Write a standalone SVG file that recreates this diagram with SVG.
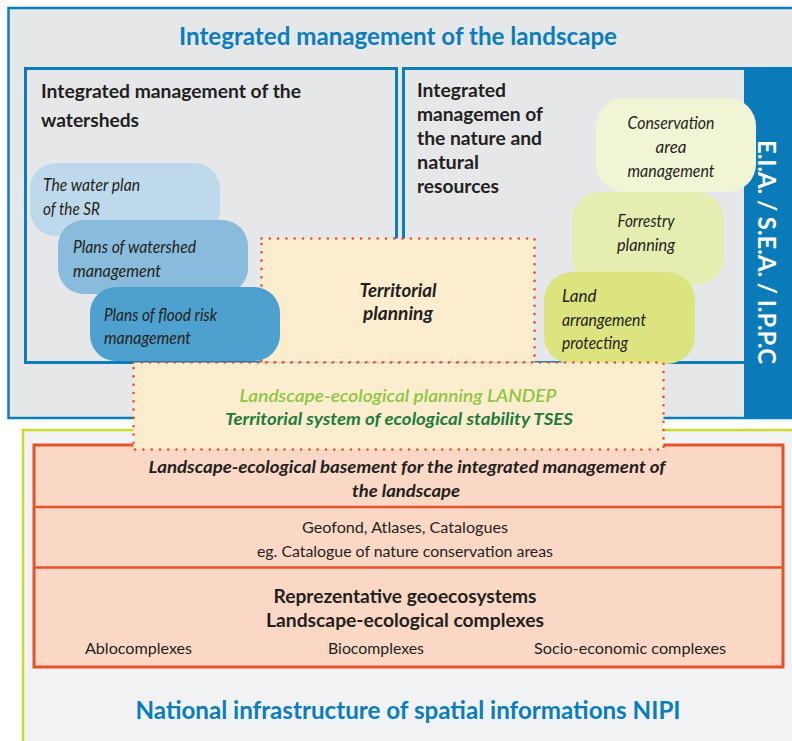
<svg xmlns="http://www.w3.org/2000/svg" width="792" height="741" viewBox="0 0 792 741">
  <style>
    text { font-family: Lato, "Open Sans", "Liberation Sans", sans-serif; fill: #231f20; }
    .title { font-size: 24px; font-weight: 700; fill: #0b7dbc; }
    .head { font-size: 19px; font-weight: 700; }
    .plan { font-size: 17px; font-style: italic; }
    .bi { font-style: italic; font-weight: 700; }
    .reg { font-size: 15.5px; }
    .frame { fill: #e6e7e9; stroke: #0b7dbc; stroke-width: 3; }
    .dotted { fill: #fdedcf; stroke: #ea4b2c; stroke-width: 2.6; stroke-dasharray: 0 8.3; stroke-linecap: round; }
    .salmon { fill: #fbd8c5; stroke: #e8522b; stroke-width: 3; }
  </style>

  <!-- Upper block: integrated management -->
  <g id="landscape-management">
    <rect x="8.5" y="8" width="790" height="410" fill="#e6e7e9" stroke="#0b7dbc" stroke-width="2.5"/>
    <text class="title" x="398" y="45" text-anchor="middle" textLength="438" lengthAdjust="spacingAndGlyphs">Integrated management of the landscape</text>
  </g>

  <!-- Lower block: national infrastructure -->
  <g id="nipi">
    <rect x="23" y="430" width="780" height="320" fill="#f1f2f4" stroke="#cbdb2a" stroke-width="2.5"/>
    <text class="title" x="408" y="719" text-anchor="middle" textLength="545" lengthAdjust="spacingAndGlyphs">National infrastructure of spatial informations NIPI</text>
  </g>

  <g id="watersheds">
    <rect class="frame" x="25.5" y="68.5" width="371" height="294"/>
    <text class="head" x="41" y="98" textLength="260" lengthAdjust="spacingAndGlyphs">Integrated management of the</text>
    <text class="head" x="41" y="127" textLength="98" lengthAdjust="spacingAndGlyphs">watersheds</text>
  </g>

  <g id="nature-resources">
    <rect class="frame" x="403.5" y="68.5" width="350" height="294"/>
    <text class="head" x="417" y="97" textLength="89" lengthAdjust="spacingAndGlyphs">Integrated</text>
    <text class="head" x="417" y="121" textLength="126" lengthAdjust="spacingAndGlyphs">managemen of</text>
    <text class="head" x="417" y="145" textLength="125" lengthAdjust="spacingAndGlyphs">the nature and</text>
    <text class="head" x="417" y="169" textLength="62" lengthAdjust="spacingAndGlyphs">natural</text>
    <text class="head" x="417" y="193" textLength="82" lengthAdjust="spacingAndGlyphs">resources</text>
  </g>

  <g id="eia-sea-ippc">
    <rect x="744" y="67" width="48" height="351" fill="#0a7bb8"/>
    <text x="758" y="140" transform="rotate(90 758 140)" font-size="25" font-weight="700" style="fill:#ffffff" textLength="224" lengthAdjust="spacingAndGlyphs">E.I.A. / S.E.A. / I.P.P.C</text>
  </g>

  <!-- Water planning levels -->
  <g id="water-plan">
    <rect x="30" y="163" width="190" height="73" rx="26" fill="#bed9ec"/>
    <text class="plan" x="43" y="191" textLength="97" lengthAdjust="spacingAndGlyphs">The water plan</text>
    <text class="plan" x="43" y="215" textLength="57" lengthAdjust="spacingAndGlyphs">of the SR</text>
  </g>

  <g id="watershed-plans">
    <rect x="58" y="220" width="190" height="74" rx="26" fill="#89bbdc"/>
    <text class="plan" x="73" y="253" textLength="123" lengthAdjust="spacingAndGlyphs">Plans of watershed</text>
    <text class="plan" x="73" y="277" textLength="88" lengthAdjust="spacingAndGlyphs">management</text>
  </g>

  <!-- Territorial planning -->
  <g id="territorial-planning">
    <rect class="dotted" x="261.5" y="238.5" width="273" height="124"/>
    <text class="bi" x="398" y="297" font-size="18" text-anchor="middle" textLength="77" lengthAdjust="spacingAndGlyphs">Territorial</text>
    <text class="bi" x="398" y="320" font-size="18" text-anchor="middle" textLength="70" lengthAdjust="spacingAndGlyphs">planning</text>
  </g>

  <g id="flood-risk-plans">
    <rect x="90" y="287" width="190" height="74" rx="26" fill="#4ea1cf"/>
    <text class="plan" x="104" y="321" textLength="113" lengthAdjust="spacingAndGlyphs">Plans of flood risk</text>
    <text class="plan" x="104" y="344" textLength="87" lengthAdjust="spacingAndGlyphs">management</text>
  </g>

  <!-- Nature and resource planning -->
  <g id="conservation-area">
    <rect x="596" y="98" width="160" height="94" rx="28" fill="#f1f5d5"/>
    <text class="plan" x="671" y="129" text-anchor="middle" textLength="87" lengthAdjust="spacingAndGlyphs">Conservation</text>
    <text class="plan" x="671" y="153" text-anchor="middle">area</text>
    <text class="plan" x="671" y="177" text-anchor="middle" textLength="87" lengthAdjust="spacingAndGlyphs">management</text>
  </g>

  <g id="forestry-planning">
    <rect x="572" y="192" width="152" height="93" rx="28" fill="#e6edb0"/>
    <text class="plan" x="646" y="227" text-anchor="middle" textLength="57" lengthAdjust="spacingAndGlyphs">Forrestry</text>
    <text class="plan" x="646" y="251" text-anchor="middle" textLength="58" lengthAdjust="spacingAndGlyphs">planning</text>
  </g>

  <g id="land-arrangement">
    <rect x="544" y="272" width="151" height="92" rx="28" fill="#dce47f"/>
    <text class="plan" x="562" y="302">Land</text>
    <text class="plan" x="562" y="326" textLength="84" lengthAdjust="spacingAndGlyphs">arrangement</text>
    <text class="plan" x="562" y="349" textLength="66" lengthAdjust="spacingAndGlyphs">protecting</text>
  </g>

  <!-- Landscape-ecological basement -->
  <g id="basement">
    <rect class="salmon" x="34" y="445" width="749" height="222"/>
    <line x1="34" y1="507" x2="783" y2="507" stroke="#e8522b" stroke-width="2.5"/>
    <line x1="34" y1="567.5" x2="783" y2="567.5" stroke="#e8522b" stroke-width="2.5"/>
    <text class="bi" x="407" y="473" font-size="17" text-anchor="middle" textLength="517" lengthAdjust="spacingAndGlyphs">Landscape-ecological basement for the integrated management of</text>
    <text class="bi" x="406" y="497" font-size="17" text-anchor="middle" textLength="108" lengthAdjust="spacingAndGlyphs">the landscape</text>
    <text class="reg" x="405" y="533" text-anchor="middle" textLength="206" lengthAdjust="spacingAndGlyphs">Geofond, Atlases, Catalogues</text>
    <text class="reg" x="405" y="557" text-anchor="middle" textLength="296" lengthAdjust="spacingAndGlyphs">eg. Catalogue of nature conservation areas</text>
    <text x="405" y="603" font-size="18" font-weight="700" text-anchor="middle" textLength="263" lengthAdjust="spacingAndGlyphs">Reprezentative geoecosystems</text>
    <text x="405" y="627" font-size="18" font-weight="700" text-anchor="middle" textLength="278" lengthAdjust="spacingAndGlyphs">Landscape-ecological complexes</text>
    <text class="reg" x="138.5" y="654" text-anchor="middle" textLength="107" lengthAdjust="spacingAndGlyphs">Ablocomplexes</text>
    <text class="reg" x="376" y="654" text-anchor="middle" textLength="96" lengthAdjust="spacingAndGlyphs">Biocomplexes</text>
    <text class="reg" x="630" y="654" text-anchor="middle" textLength="192" lengthAdjust="spacingAndGlyphs">Socio-economic complexes</text>
  </g>

  <!-- Landscape-ecological planning -->
  <g id="landep-tses">
    <rect class="dotted" x="133.5" y="362.5" width="530" height="87"/>
    <text class="bi" x="398" y="402" font-size="17.5" text-anchor="middle" style="fill:#8dc63f;font-weight:600" textLength="317" lengthAdjust="spacingAndGlyphs">Landscape-ecological planning LANDEP</text>
    <text class="bi" x="399" y="425" font-size="17.5" text-anchor="middle" style="fill:#1f7a3c" textLength="348" lengthAdjust="spacingAndGlyphs">Territorial system of ecological stability TSES</text>
  </g>
</svg>
